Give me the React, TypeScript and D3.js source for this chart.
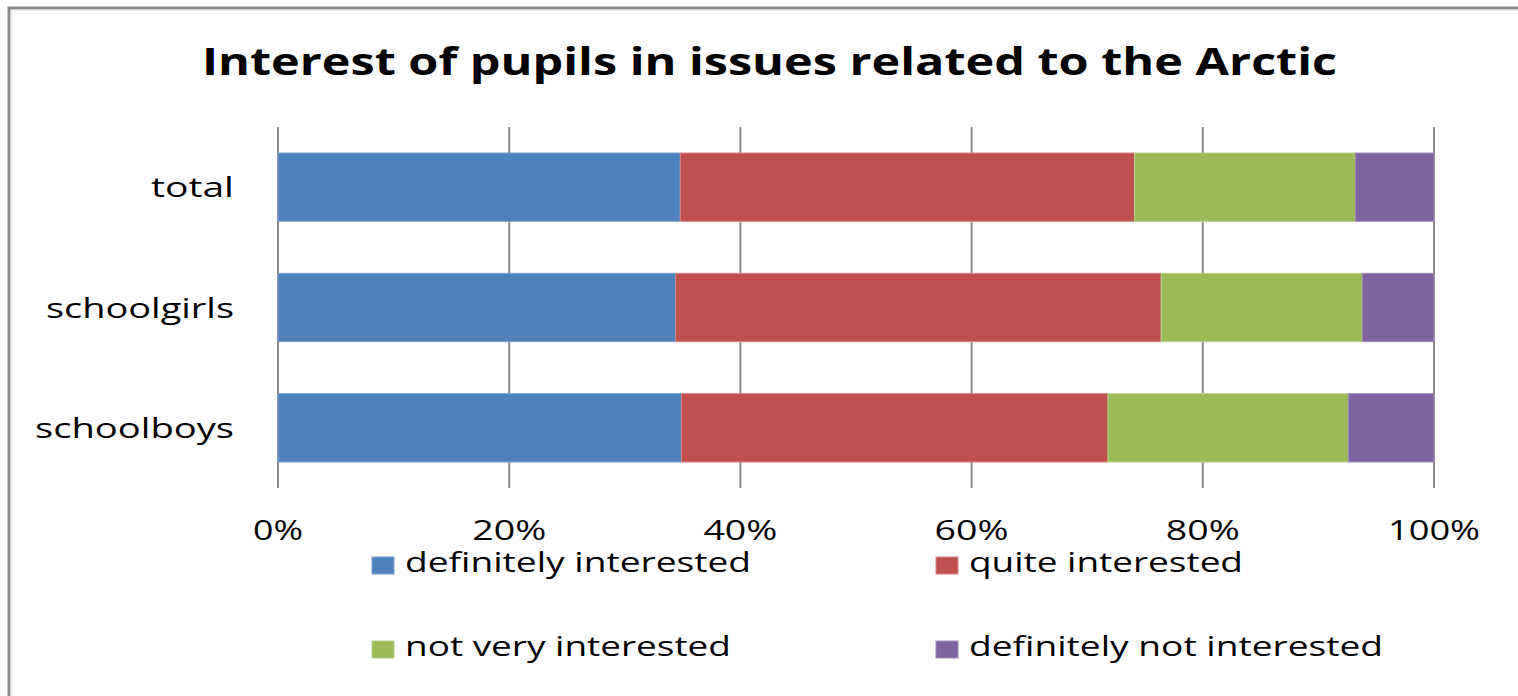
import React from "react";
import * as d3 from "d3";

const title = "Interest of pupils in issues related to the Arctic";
const categories = ["total", "schoolgirls", "schoolboys"];
const seriesNames = [
  "definitely interested",
  "quite interested",
  "not very interested",
  "definitely not interested",
];
const definitelyInterested = [34.8, 34.4, 34.9];
const quiteInterested = [39.3, 42.0, 36.9];
const notVeryInterested = [19.1, 17.4, 20.8];
const definitelyNotInterested = [6.8, 6.2, 7.4];
const tickValues = [0, 20, 40, 60, 80, 100];
const tickLabels = ["0%", "20%", "40%", "60%", "80%", "100%"];

const colors = ["#4F81BD", "#C0504D", "#9BBB59", "#8064A2"];
const edgeColors = ["#7DA0CF", "#D68583", "#B9D08E", "#A08CBB"];

// measured text widths (the reference is horizontally stretched)
const catWidths: Record<string, number> = { total: 83, schoolgirls: 188, schoolboys: 199 };
const tickWidths = [50, 74, 74, 74, 74, 92];
const legendWidths = [346, 274, 326, 414];

export default function App() {
  const W = 1518;
  const H = 696;
  const margin = { left: 278, right: W - 1434, top: 127, bottom: H - 488 };
  const x = d3.scaleLinear().domain([0, 100]).range([margin.left, W - margin.right]);
  const y = d3
    .scaleBand<string>()
    .domain(categories)
    .range([margin.top, H - margin.bottom])
    .paddingInner(0.432)
    .paddingOuter(0.216);

  const rows = categories.map((c, i) => ({
    cat: c,
    v0: definitelyInterested[i],
    v1: quiteInterested[i],
    v2: notVeryInterested[i],
    v3: definitelyNotInterested[i],
  }));
  const stack = d3.stack<any>().keys(["v0", "v1", "v2", "v3"]);
  const stacked = stack(rows);

  const font = "'Open Sans', 'DejaVu Sans', sans-serif";
  const legendPos = [
    { x: 372, y: 565 },
    { x: 936, y: 565 },
    { x: 372, y: 649 },
    { x: 936, y: 649 },
  ];

  return (
    <svg
      width={W}
      height={H}
      style={{ position: "fixed", left: 0, top: 0, background: "#fff" }}
      fontFamily={font}
    >
      <rect x={0} y={0} width={W} height={H} fill="#fff" />
      {/* chart border */}
      <path d={`M9,${H} L9,8 L${W},8`} fill="none" stroke="#8a8a8a" strokeWidth={3} />
      <path d={`M11,${H} L11,10 L${W},10`} fill="none" stroke="#d8d8d8" strokeWidth={1} />

      <text
        x={202}
        y={75}
        fontSize={38}
        fontWeight={700}
        fill="#000"
        textLength={1135}
        lengthAdjust="spacingAndGlyphs"
      >
        {title}
      </text>

      {/* gridlines */}
      {tickValues.map((t) => (
        <line
          key={t}
          x1={x(t)}
          x2={x(t)}
          y1={margin.top}
          y2={H - margin.bottom}
          stroke="#8c8c8c"
          strokeWidth={2}
        />
      ))}

      {/* bars */}
      {stacked.map((s, si) =>
        s.map((d, di) => (
          <rect
            key={`${si}-${di}`}
            x={x(d[0])}
            y={y(categories[di])!}
            width={x(d[1]) - x(d[0])}
            height={y.bandwidth()}
            fill={colors[si]}
            stroke={edgeColors[si]}
            strokeWidth={1}
          />
        ))
      )}

      {/* category labels */}
      {categories.map((c) => (
        <text
          key={c}
          x={234}
          y={y(c)! + y.bandwidth() / 2 + 10}
          fontSize={28}
          textAnchor="end"
          fill="#000"
          textLength={catWidths[c]}
          lengthAdjust="spacingAndGlyphs"
        >
          {c}
        </text>
      ))}

      {/* tick labels */}
      {tickValues.map((t, i) => (
        <text
          key={t}
          x={x(t)}
          y={540}
          fontSize={27}
          textAnchor="middle"
          fill="#000"
          textLength={tickWidths[i]}
          lengthAdjust="spacingAndGlyphs"
        >
          {tickLabels[i]}
        </text>
      ))}

      {/* legend */}
      {seriesNames.map((n, i) => (
        <g key={n}>
          <rect
            x={legendPos[i].x}
            y={legendPos[i].y - 8}
            width={22}
            height={17}
            fill={colors[i]}
            stroke={edgeColors[i]}
            strokeWidth={1}
          />
          <text
            x={legendPos[i].x + 33}
            y={legendPos[i].y + 7}
            fontSize={27}
            fill="#000"
            textLength={legendWidths[i]}
            lengthAdjust="spacingAndGlyphs"
          >
            {n}
          </text>
        </g>
      ))}
    </svg>
  );
}
